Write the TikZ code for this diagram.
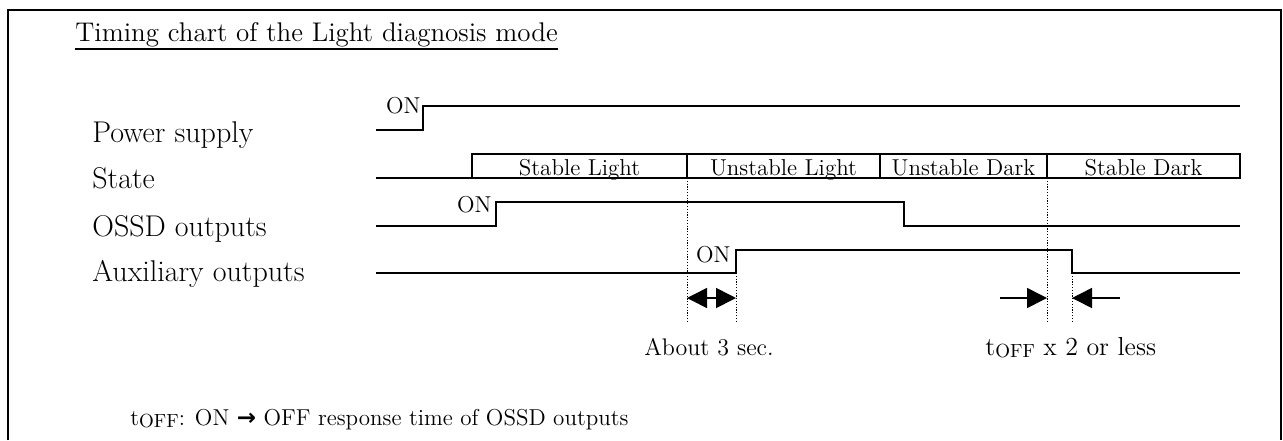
\documentclass[tikz,border=0pt]{standalone}
\usepackage{fontspec}
\newfontfamily\arrowfont{DejaVu Sans}
\usetikzlibrary{arrows.meta}
% lowered, smaller index text such as the OFF in t_OFF
\newcommand\lowidx[1]{\raisebox{-0.25ex}{\fontsize{9.5}{10}\selectfont #1}}
\begin{document}
\begin{tikzpicture}[x=0.5pt,y=-0.5pt,
  frame/.style={line width=1pt},
  sig/.style={line width=0.8pt, line join=miter},
  guide/.style={line width=0.5pt, dash pattern=on 0.6pt off 0.8pt},
  dim/.style={line width=0.8pt, -{Triangle[length=10pt,width=10pt]}},
  ttl/.style={font=\fontsize{13.5}{16}\selectfont, inner sep=0pt},
  big/.style={font=\fontsize{15}{18}\selectfont, inner sep=0pt},
  note/.style={font=\fontsize{11.5}{14}\selectfont, inner sep=0pt},
  small/.style={font=\fontsize{11.5}{13}\selectfont, inner sep=0pt}]
\useasboundingbox (0,0) rectangle (1283,440);

% outer frame (open at the bottom)
\draw[frame] (8,440) -- (8,10) -- (1281,10) -- (1281,440);

% title with its underline
\node[ttl, anchor=base west] (title) at (75,41) {Timing chart of the Light diagnosis mode};
\draw[line width=0.7pt] ([yshift=-4pt]title.base west) -- ([yshift=-4pt]title.base east);

% row labels
\node[big, anchor=base west] (lpow)  at (92,142) {Power supply};
\node[big, anchor=base west] (lstate) at (92,188) {State};
\node[big, anchor=base west] (lossd) at (92,236) {OSSD outputs};
\node[big, anchor=base west] (laux)  at (92,281) {Auxiliary outputs};

% power supply
\coordinate (p0) at (376,130);
\coordinate (p1) at (423,130);
\coordinate (p2) at (423,106);
\coordinate (p3) at (1240,106);
\draw[sig] (p0) -- (p1) -- (p2) -- (p3);
\node[small, anchor=base east] (pon) at (421,113) {ON};

% state
\coordinate (s0) at (376,178);
\coordinate (s1) at (472,178);
\draw[sig] (s0) -- (s1);
\draw[sig] (472,154) rectangle (1240,178);
\draw[sig] (687,154) -- (687,178);
\draw[sig] (880,154) -- (880,178);
\draw[sig] (1047,154) -- (1047,178);
\node[small, anchor=base] (st1) at (579.5,175) {Stable Light};
\node[small, anchor=base] (st2) at (783.5,175) {Unstable Light};
\node[small, anchor=base] (st3) at (963.5,175) {Unstable Dark};
\node[small, anchor=base] (st4) at (1143.5,175) {Stable Dark};

% OSSD outputs
\coordinate (o0) at (376,226);
\coordinate (o1) at (496,226);
\coordinate (o2) at (496,202);
\coordinate (o3) at (904,202);
\coordinate (o4) at (904,226);
\coordinate (o5) at (1240,226);
\draw[sig] (o0) -- (o1) -- (o2) -- (o3) -- (o4) -- (o5);
\node[small, anchor=base east] (oon) at (492,212) {ON};

% auxiliary outputs
\coordinate (a0) at (376,273);
\coordinate (a1) at (736,273);
\coordinate (a2) at (736,250);
\coordinate (a3) at (1072,250);
\coordinate (a4) at (1072,273);
\coordinate (a5) at (1240,273);
\draw[sig] (a0) -- (a1) -- (a2) -- (a3) -- (a4) -- (a5);
\node[small, anchor=base east] (aon) at (731,262) {ON};

% dotted guide lines
\coordinate (g1t) at (687,178);  \coordinate (g1b) at (687,322);
\coordinate (g2b) at (736,322);
\coordinate (g3t) at (1047,178); \coordinate (g3b) at (1047,322);
\coordinate (g4b) at (1072,322);
\draw[guide] (g1t) -- (g1b);
\draw[guide] (a1) -- (g2b);
\draw[guide] (g3t) -- (g3b);
\draw[guide] (a4) -- (g4b);

% dimension arrows
\coordinate (m1) at (711.5,298);
\coordinate (d1l) at (687,298);
\coordinate (d1r) at (736,298);
\draw[dim] (m1) -- (d1l);
\draw[dim] (m1) -- (d1r);
\coordinate (d2s) at (1000,298);
\coordinate (d2e) at (1047,298);
\coordinate (d3s) at (1120,298);
\coordinate (d3e) at (1072,298);
\draw[dim] (d2s) -- (d2e);
\draw[dim] (d3s) -- (d3e);

% dimension texts
\node[font=\fontsize{12}{14}\selectfont, inner sep=0pt, anchor=base] (about) at (709,355) {About 3 sec.};
\node[font=\fontsize{13}{15}\selectfont, inner sep=0pt, anchor=base west] (toff) at (985,355) {t\lowidx{OFF} x 2 or less};

% footnote
\node[note, anchor=base west] (note) at (130,425) {t\lowidx{OFF}: ON {\arrowfont\bfseries →} OFF response time of OSSD outputs};
\end{tikzpicture}
\end{document}
